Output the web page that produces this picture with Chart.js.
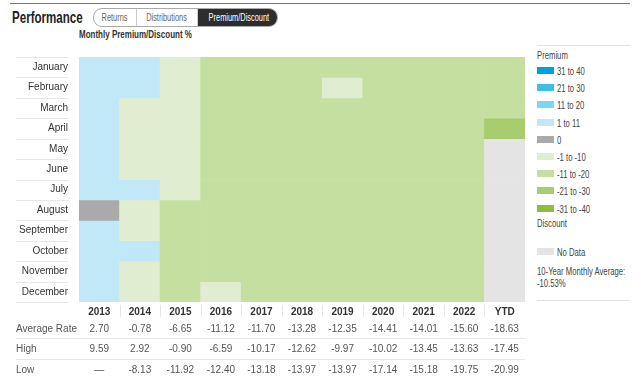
<!DOCTYPE html>
<html>
<head>
<meta charset="utf-8">
<script src="https://cdn.jsdelivr.net/npm/chart.js@4"></script>
<style>
    body { margin: 0; background: #fff; font-family: 'Liberation Sans', Arial, sans-serif; color: #333; }
    #wrap { position: relative; width: 640px; height: 380px; overflow: hidden; }
    #topline { position: absolute; left: 10px; top: 3px; width: 620px; height: 1px; background: #777; }
    .cond { display: inline-block; transform-origin: left center; white-space: nowrap; }
    #title { position: absolute; left: 12px; top: 8px; font-size: 17px; font-weight: bold; color: #222; }
    #title .cond { transform: scaleX(0.68); }
    #tabs { position: absolute; left: 93px; top: 8px; height: 17px; display: flex; border: 1px solid #aaa; border-radius: 9px; overflow: hidden; font-size: 10px; }
    #tabs div { line-height: 17px; color: #666; border-right: 1px solid #ccc; text-align: center; overflow: hidden; }
    #tabs div.on { background: #2d2d2d; color: #fff; border-right: none; }
    #tabs .cond { transform: scaleX(0.74); transform-origin: center center; }
    #subtitle { position: absolute; left: 79px; top: 29px; font-size: 10px; font-weight: bold; color: #333; }
    #subtitle .cond { transform: scaleX(0.8); }
    #chartBox { position: absolute; left: 0; top: 40px; width: 530px; height: 340px; }
    #legend { position: absolute; left: 537px; top: 45px; width: 93px; height: 254px; border-top: 1px solid #e2e2e2; border-bottom: 1px solid #e2e2e2; font-size: 11px; color: #444; }
    .lg { position: absolute; left: 0; white-space: nowrap; line-height: 13px; }
    .lg .cond { transform: scaleX(0.7); }
    .sw { display: inline-block; width: 17px; height: 7px; margin-right: 3px; vertical-align: 1px; }
</style>
</head>
<body>
<div id="wrap">
    <div id="topline"></div>
    <div id="title"><span class="cond">Performance</span></div>
    <div id="tabs">
        <div style="width:42px"><span class="cond">Returns</span></div>
        <div style="width:60px"><span class="cond">Distributions</span></div>
        <div class="on" style="width:79px"><span class="cond">Premium/Discount</span></div>
    </div>
    <div id="subtitle"><span class="cond">Monthly Premium/Discount %</span></div>
    <div id="chartBox"><canvas id="heatChart" width="530" height="340"></canvas></div>
    <div id="legend"></div>
</div>

<script>
// ==========================================
// DADOS
// ==========================================

const years = ['2013', '2014', '2015', '2016', '2017', '2018', '2019', '2020', '2021', '2022', 'YTD'];
const months = ['January', 'February', 'March', 'April', 'May', 'June', 'July', 'August', 'September', 'October', 'November', 'December'];

// faixa de cada mês: 1 = "1 to 11", 0 = "0", -1 = "-1 to -10", -2 = "-11 to -20", -3 = "-21 to -30", null = sem dado
const bands2013 = [1, 1, 1, 1, 1, 1, 1, 0, 1, 1, 1, 1];
const bands2014 = [1, 1, -1, -1, -1, -1, 1, -1, -1, 1, -1, -1];
const bands2015 = [-1, -1, -1, -1, -1, -1, -1, -2, -2, -2, -2, -2];
const bands2016 = [-2, -2, -2, -2, -2, -2, -2, -2, -2, -2, -2, -1];
const bands2017 = [-2, -2, -2, -2, -2, -2, -2, -2, -2, -2, -2, -2];
const bands2018 = [-2, -2, -2, -2, -2, -2, -2, -2, -2, -2, -2, -2];
const bands2019 = [-2, -1, -2, -2, -2, -2, -2, -2, -2, -2, -2, -2];
const bands2020 = [-2, -2, -2, -2, -2, -2, -2, -2, -2, -2, -2, -2];
const bands2021 = [-2, -2, -2, -2, -2, -2, -2, -2, -2, -2, -2, -2];
const bands2022 = [-2, -2, -2, -2, -2, -2, -2, -2, -2, -2, -2, -2];
const bandsYTD = [-2, -2, -2, -3, null, null, null, null, null, null, null, null];
const bandsByYear = [bands2013, bands2014, bands2015, bands2016, bands2017, bands2018, bands2019, bands2020, bands2021, bands2022, bandsYTD];

const avgRate = ['2.70', '-0.78', '-6.65', '-11.12', '-11.70', '-13.28', '-12.35', '-14.41', '-14.01', '-15.60', '-18.63'];
const highRate = ['9.59', '2.92', '-0.90', '-6.59', '-10.17', '-12.62', '-9.97', '-10.02', '-13.45', '-13.63', '-17.45'];
const lowRate = ['\u2014', '-8.13', '-11.92', '-12.40', '-13.18', '-13.97', '-13.97', '-17.14', '-15.18', '-19.75', '-20.99'];

const legendLabels = ['31 to 40', '21 to 30', '11 to 20', '1 to 11', '0', '-1 to -10', '-11 to -20', '-21 to -30', '-31 to -40'];
const legendBands = [4, 3, 2, 1, 0, -1, -2, -3, -4];
const tenYearAvg = '-10.53%';

// ==========================================
// CORES
// ==========================================

const bandColors = {
    '4': '#00a0df', '3': '#3fbde9', '2': '#80d3f1', '1': '#c1e8f6',
    '0': '#aaaaaa',
    '-1': '#e0edd0', '-2': '#c5dfa0', '-3': '#a8cd6e', '-4': '#8cbf3f'
};
const noDataColor = '#e4e4e4';

function colorFor(band) {
    return band === null ? noDataColor : bandColors[String(band)];
}

// ==========================================
// LEGENDA (HTML)
// ==========================================

function buildLegend() {
    const box = document.getElementById('legend');
    let html = '<div class="lg" style="top:3px"><span class="cond">Premium</span></div>';
    legendLabels.forEach((lab, i) => {
        const top = 19 + i * 17.2;
        html += `<div class="lg" style="top:${top}px"><span class="sw" style="background:${colorFor(legendBands[i])}"></span><span class="cond">${lab}</span></div>`;
    });
    html += '<div class="lg" style="top:171px"><span class="cond">Discount</span></div>';
    html += `<div class="lg" style="top:200px"><span class="sw" style="background:${noDataColor}"></span><span class="cond">No Data</span></div>`;
    html += '<div class="lg" style="top:219px"><span class="cond">10-Year Monthly Average:</span></div>';
    html += `<div class="lg" style="top:231px"><span class="cond">${tenYearAvg}</span></div>`;
    box.innerHTML = html;
}

// ==========================================
// TABELA ABAIXO DO GRÁFICO (plugin)
// ==========================================

const tablePlugin = {
    id: 'tableRows',
    afterDraw(chart) {
        const ctx = chart.ctx;
        const x = chart.scales.x;
        const y = chart.scales.y;
        const area = chart.chartArea;
        const family = Chart.defaults.font.family;
        ctx.save();

        // linhas entre os meses (coluna dos rótulos)
        ctx.strokeStyle = '#e6e6e6';
        ctx.lineWidth = 1;
        for (let i = 0; i <= months.length; i++) {
            const py = Math.round(y.getPixelForValue(i)) + 0.5;
            ctx.beginPath();
            ctx.moveTo(16, py);
            ctx.lineTo(68, py);
            ctx.stroke();
        }

        // separadores verticais entre os anos
        for (let i = 1; i < years.length; i++) {
            const px = Math.round((x.getPixelForValue(i - 1) + x.getPixelForValue(i)) / 2) + 0.5;
            ctx.beginPath();
            ctx.moveTo(px, area.bottom + 3);
            ctx.lineTo(px, area.bottom + 15);
            ctx.stroke();
        }

        // linhas horizontais da tabela
        [area.bottom + 36, area.bottom + 57].forEach(py => {
            ctx.beginPath();
            ctx.moveTo(16, py + 0.5);
            ctx.lineTo(area.right, py + 0.5);
            ctx.stroke();
        });

        const rows = [['Average Rate', avgRate], ['High', highRate], ['Low', lowRate]];
        const rowY = [area.bottom + 27, area.bottom + 47, area.bottom + 68];
        ctx.font = '10px ' + family;
        ctx.textBaseline = 'middle';
        rows.forEach((row, r) => {
            ctx.fillStyle = '#555';
            ctx.textAlign = 'left';
            ctx.fillText(row[0], 16, rowY[r]);
            ctx.textAlign = 'center';
            row[1].forEach((v, i) => {
                ctx.fillText(v, x.getPixelForValue(i), rowY[r]);
            });
        });
        ctx.restore();
    }
};

// ==========================================
// GRÁFICO (CHART.JS)
// ==========================================

document.addEventListener('DOMContentLoaded', () => {
    buildLegend();
    renderHeatmap();
});

function renderHeatmap() {
    Chart.defaults.font.family = "'Liberation Sans', Arial, sans-serif";
    Chart.defaults.font.size = 10;
    Chart.defaults.color = '#333';

    // um dataset por mês, empilhados (janeiro no topo)
    const datasets = months.map((m, mi) => ({
        label: m,
        data: years.map(() => 1),
        backgroundColor: years.map((yr, yi) => colorFor(bandsByYear[yi][mi])),
        borderWidth: 0,
        barPercentage: 1,
        categoryPercentage: 1,
        stack: 'grid',
        yAxisID: 'y'
    }));

    const ctx = document.getElementById('heatChart').getContext('2d');
    new Chart(ctx, {
        type: 'bar',
        data: { labels: years, datasets: datasets },
        options: {
            responsive: false,
            animation: false,
            events: [],
            layout: { padding: { top: 5, right: 5, left: 0, bottom: 0 } },
            plugins: { legend: { display: false }, tooltip: { enabled: false } },
            scales: {
                x: {
                    stacked: true,
                    grid: { display: false, drawTicks: false },
                    border: { display: false },
                    ticks: { font: { weight: 'bold', size: 10 }, color: '#333', padding: 4 },
                    afterFit: scale => { scale.height = 78; }
                },
                y: {
                    stacked: true,
                    min: 0,
                    max: 12,
                    reverse: true,
                    display: false
                },
                yMonths: {
                    type: 'category',
                    labels: months,
                    offset: true,
                    position: 'left',
                    grid: { display: false, drawTicks: false },
                    border: { display: false },
                    ticks: { color: '#333', padding: 11 },
                    afterFit: scale => { scale.width = 79; }
                }
            }
        },
        plugins: [tablePlugin]
    });
}
</script>
</body>
</html>
